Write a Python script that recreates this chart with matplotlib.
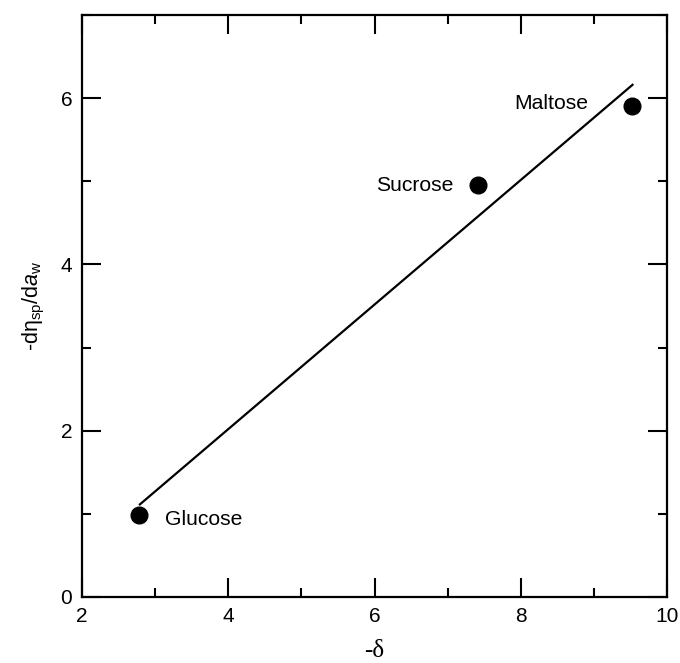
import numpy as np
import matplotlib
matplotlib.use("Agg")
import matplotlib.pyplot as plt
from matplotlib.ticker import MultipleLocator

sugars = ["Glucose", "Sucrose", "Maltose"]
neg_delta = [2.78, 7.42, 9.52]
neg_deta = [0.99, 4.95, 5.90]

plt.rcParams['font.family'] = ['Liberation Sans', 'DejaVu Sans']
plt.rcParams['mathtext.fontset'] = 'custom'
plt.rcParams['mathtext.rm'] = 'Liberation Sans'
plt.rcParams['mathtext.it'] = 'Liberation Sans:italic'

fig = plt.figure(figsize=(6.8, 6.63), dpi=100)
ax = fig.add_axes([82/680, 1-597/663, (667-82)/680, (597-15)/663])

x = np.array(neg_delta)
y = np.array(neg_deta)
p = np.polyfit(x, y, 1)
xl = np.array([x.min(), x.max() + 0.02])
ax.plot(xl, np.polyval(p, xl), color='black', lw=1.6, solid_capstyle='butt')
ax.plot(x, y, 'o', color='black', ms=12, zorder=3)

offsets = {"Glucose": (19, -3.6, 'left'), "Sucrose": (-18, 0, 'right'), "Maltose": (-31.7, 2, 'right')}
for name, xi, yi in zip(sugars, x, y):
    dx, dy, ha = offsets[name]
    ax.annotate(name, (xi, yi), xytext=(dx, dy), textcoords='offset points',
                ha=ha, va='center', fontsize=15.2)

ax.set_xlim(2, 10)
ax.set_ylim(0, 7)
ax.xaxis.set_major_locator(MultipleLocator(2))
ax.xaxis.set_minor_locator(MultipleLocator(1))
ax.yaxis.set_major_locator(MultipleLocator(2))
ax.yaxis.set_minor_locator(MultipleLocator(1))
ax.tick_params(which='both', direction='in', top=True, right=True, width=1.5, labelsize=15)
ax.tick_params(which='major', length=13.7, pad=7)
ax.tick_params(which='minor', length=6.8)
for s in ax.spines.values():
    s.set_linewidth(1.6)

ax.set_xlabel('-δ', fontsize=18, family=['Liberation Serif'], labelpad=10)
ax.set_ylabel(r'-dη$_{\rm sp}$/d$\it{a}$$_{\rm w}$', fontsize=15.5, labelpad=10)

fig.savefig('out.png', dpi=100)
